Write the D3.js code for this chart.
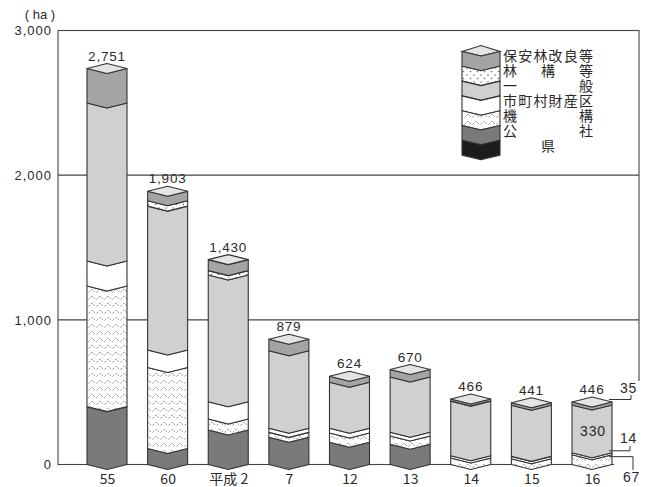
<!DOCTYPE html>
<html>
<head>
<meta charset="utf-8">
<script src="https://cdn.jsdelivr.net/npm/d3@7"></script>
<style>
  body { margin: 0; background: #fff; }
  svg { display: block; }
  text { font-family: "Liberation Sans", Arial, sans-serif; fill: #2a2a2a; }
  .jp { font-family: "Noto Sans CJK JP", "Noto Sans", sans-serif; }
</style>
</head>
<body>
<svg id="chart" width="655" height="487"></svg>
<script>
//Categories (years) and totals shown above the bars.
var categories = ["55", "60", "平成 2", "7", "12", "13", "14", "15", "16"];
var totals = [2751, 1903, 1430, 879, 624, 670, 466, 441, 446];

//Series values, bottom of the stack first.
var ken       = [0, 0, 0, 0, 0, 0, 0, 0, 0];
var kosha     = [400, 110, 239, 188, 154, 140, 0, 0, 0];
var kikou     = [834, 561, 76, 34, 64, 57, 45, 40, 67];
var shichoson = [173, 120, 119, 28, 33, 26, 16, 16, 14];
var ippan     = [1092, 995, 876, 536, 317, 382, 377, 354, 330];
var rinkou    = [0, 37, 30, 0, 0, 0, 0, 0, 0];
var hoan      = [252, 80, 90, 93, 56, 65, 28, 31, 35];

var yTicks = [0, 1000, 2000, 3000];

//Series as the legend lists them (top to bottom).
var series = [
	{key: "hoan", name: "保安林改良等", values: hoan, fill: "#a4a4a4"},
	{key: "rinkou", name: "林構等", values: rinkou, fill: "url(#dots)"},
	{key: "ippan", name: "一般", values: ippan, fill: "#d0d0d0"},
	{key: "shichoson", name: "市町村財産区", values: shichoson, fill: "#ffffff"},
	{key: "kikou", name: "機構", values: kikou, fill: "url(#zigzag)"},
	{key: "kosha", name: "公社", values: kosha, fill: "#7a7a7a"},
	{key: "ken", name: "県", values: ken, fill: "#1c1c1c"}
];
var stackKeys = series.map(function(s){ return s.key; }).reverse();
var fillOf = {};
series.forEach(function(s){ fillOf[s.key] = s.fill; });

var table = categories.map(function(c, i){
	var row = {cat: c};
	series.forEach(function(s){ row[s.key] = s.values[i]; });
	return row;
});

var svg = d3.select("#chart");
var plotLeft = 58, plotRight = 639, plotTop = 30.5, plotBottom = 464.5;
var barW = 40, dip = 5;
var stroke = "#333";

var x = d3.scalePoint().domain(categories).range([107, 592]);
var y = d3.scaleLinear().domain([0, 3000]).range([plotBottom, plotTop]);

//Patterns for the hatched series.
var defs = svg.append("defs");
var zz = defs.append("pattern")
	.attr("id", "zigzag")
	.attr("patternUnits", "userSpaceOnUse")
	.attr("width", 8)
	.attr("height", 7);
zz.append("rect").attr("width", 8).attr("height", 7).attr("fill", "#fff");
zz.append("path")
	.attr("d", "M0.5,5.5 L4,2 L7.5,5.5")
	.attr("fill", "none")
	.attr("stroke", "#7c7c7c")
	.attr("stroke-width", 0.8)
	.attr("stroke-dasharray", "2.2,1.2");

var dots = defs.append("pattern")
	.attr("id", "dots")
	.attr("patternUnits", "userSpaceOnUse")
	.attr("width", 7)
	.attr("height", 7);
dots.append("rect").attr("width", 7).attr("height", 7).attr("fill", "#fff");
dots.append("circle").attr("cx", 1.5).attr("cy", 1.5).attr("r", 0.75).attr("fill", "#666");
dots.append("circle").attr("cx", 5).attr("cy", 5).attr("r", 0.75).attr("fill", "#666");

//Grid lines and frame.
svg.append("g")
	.selectAll("line")
	.data(yTicks.slice(1, 3))
	.enter()
	.append("line")
	.attr("x1", plotLeft)
	.attr("x2", plotRight)
	.attr("y1", function(d){ return y(d); })
	.attr("y2", function(d){ return y(d); })
	.attr("stroke", "#444")
	.attr("stroke-width", 1.1);

svg.append("rect")
	.attr("x", plotLeft)
	.attr("y", plotTop)
	.attr("width", plotRight - plotLeft)
	.attr("height", plotBottom - plotTop)
	.attr("fill", "none")
	.attr("stroke", "#444")
	.attr("stroke-width", 1.1);

//Y axis labels.
var yAxis = svg.append("g")
	.attr("transform", "translate(" + plotLeft + ",0)")
	.call(d3.axisLeft(y).tickValues(yTicks).tickFormat(d3.format(",")).tickSize(0).tickPadding(6));
yAxis.select(".domain").remove();
yAxis.selectAll("text")
	.style("font-family", "'Liberation Sans', Arial, sans-serif")
	.style("font-size", "13px")
	.style("letter-spacing", "1px")
	.attr("fill", "#2a2a2a");

svg.append("text")
	.attr("x", 40)
	.attr("y", 19)
	.attr("text-anchor", "middle")
	.style("font-size", "13px")
	.text("( ha )");

//Chevron shaped segment.
function segment(cx, y0, y1){
	var x0 = cx - barW/2, x1 = cx + barW/2;
	return [[x0, y1], [cx, y1 + dip], [x1, y1], [x1, y0], [cx, y0 + dip], [x0, y0]]
		.map(function(p){ return p.join(","); }).join(" ");
}

var stacked = d3.stack().keys(stackKeys)(table);

var bars = svg.append("g");
stacked.forEach(function(layer){
	bars.selectAll(null)
		.data(layer.filter(function(d){ return d[1] - d[0] > 0; }))
		.enter()
		.append("polygon")
		.attr("points", function(d){
			var cx = x(d.data.cat);
			var yTopSide = y(d[1]);
			var total = totals[categories.indexOf(d.data.cat)];
			if(d[1] >= total) yTopSide += 2;
			return segment(cx, y(d[0]), yTopSide);
		})
		.attr("fill", fillOf[layer.key])
		.attr("stroke", stroke)
		.attr("stroke-width", 1.1)
		.attr("stroke-linejoin", "round");
});

//Top diamonds and total labels.
svg.append("g")
	.selectAll("polygon")
	.data(categories)
	.enter()
	.append("polygon")
	.attr("points", function(c, i){
		var cx = x(c), ys = y(totals[i]) + 2;
		return [[cx - barW/2, ys], [cx, ys - dip], [cx + barW/2, ys], [cx, ys + dip]]
			.map(function(p){ return p.join(","); }).join(" ");
	})
	.attr("fill", "#e4e4e4")
	.attr("stroke", stroke)
	.attr("stroke-width", 1.1)
	.attr("stroke-linejoin", "round");

svg.append("g")
	.selectAll("text")
	.data(categories)
	.enter()
	.append("text")
	.attr("x", function(c){ return x(c); })
	.attr("y", function(c, i){ return y(totals[i]) - 6; })
	.attr("text-anchor", "middle")
	.style("font-size", "13.5px")
	.style("letter-spacing", "0.8px")
	.text(function(c, i){ return d3.format(",")(totals[i]); });

//X axis labels.
var xAxis = svg.append("g")
	.call(d3.axisBottom(x).tickSize(0));
xAxis.select(".domain").remove();
xAxis.selectAll("text")
	.attr("y", 484)
	.attr("dy", 0)
	.attr("class", "jp")
	.style("font-size", "14px")
	.attr("fill", "#2a2a2a");

//Callouts for the last bar.
var last = categories.length - 1;
var lx = x(categories[last]) + barW/2;
svg.append("rect")
	.attr("x", plotRight - 25)
	.attr("y", 381)
	.attr("width", 41)
	.attr("height", 106)
	.attr("fill", "#fff");

var callouts = [
	{v: hoan[last], mid: totals[last] - hoan[last]/2, lineX: 631, endY: 395, tx: 620, ty: 393},
	{v: shichoson[last], mid: kikou[last] + shichoson[last]/2, lineX: 630, endY: 446, tx: 620, ty: 443},
	{v: kikou[last], mid: kikou[last]/2, lineX: 633, endY: 470, tx: 623, ty: 482}
];
callouts.forEach(function(c){
	var ly = y(c.mid) - 3;
	svg.append("polyline")
		.attr("points", [[lx - 3, ly], [c.lineX, ly], [c.lineX, c.endY]].map(function(p){ return p.join(","); }).join(" "))
		.attr("fill", "none")
		.attr("stroke", stroke)
		.attr("stroke-width", 1);
	svg.append("text")
		.attr("x", c.tx)
		.attr("y", c.ty)
		.style("font-size", "14px")
		.style("letter-spacing", "0.8px")
		.text(c.v);
});
svg.append("text")
	.attr("x", x(categories[last]) + 1)
	.attr("y", 436)
	.attr("text-anchor", "middle")
	.style("font-size", "14px")
	.style("letter-spacing", "0.8px")
	.text(ippan[last]);

//Legend.
var lgX = 462, lgW = 38, lgTop = 51.5, lgStep = 14.8, lgDip = 4.5;
var legend = svg.append("g");
legend.append("polygon")
	.attr("points", [[lgX, lgTop], [lgX + lgW/2, lgTop - lgDip - 1.5], [lgX + lgW, lgTop], [lgX + lgW/2, lgTop + lgDip]]
		.map(function(p){ return p.join(","); }).join(" "))
	.attr("fill", "#e4e4e4")
	.attr("stroke", stroke)
	.attr("stroke-width", 1.1);

series.forEach(function(s, i){
	var y1 = lgTop + i*lgStep, y0 = y1 + lgStep, cx = lgX + lgW/2;
	legend.append("polygon")
		.attr("points", [[lgX, y1], [cx, y1 + lgDip], [lgX + lgW, y1], [lgX + lgW, y0], [cx, y0 + lgDip], [lgX, y0]]
			.map(function(p){ return p.join(","); }).join(" "))
		.attr("fill", s.fill)
		.attr("stroke", stroke)
		.attr("stroke-width", 1.1)
		.attr("stroke-linejoin", "round");

	//Justified characters across the label column.
	var chars = s.name.split(""), fs = 14, x0 = 503, span = 90;
	var ty = 60.5 + i*15;
	chars.forEach(function(ch, k){
		var cxPos;
		if(chars.length === 1) cxPos = x0 + (span - fs)/2;
		else cxPos = x0 + k*(span - fs)/(chars.length - 1);
		legend.append("text")
			.attr("class", "jp")
			.attr("x", cxPos)
			.attr("y", ty)
			.style("font-size", fs + "px")
			.text(ch);
	});
});
</script>
</body>
</html>
